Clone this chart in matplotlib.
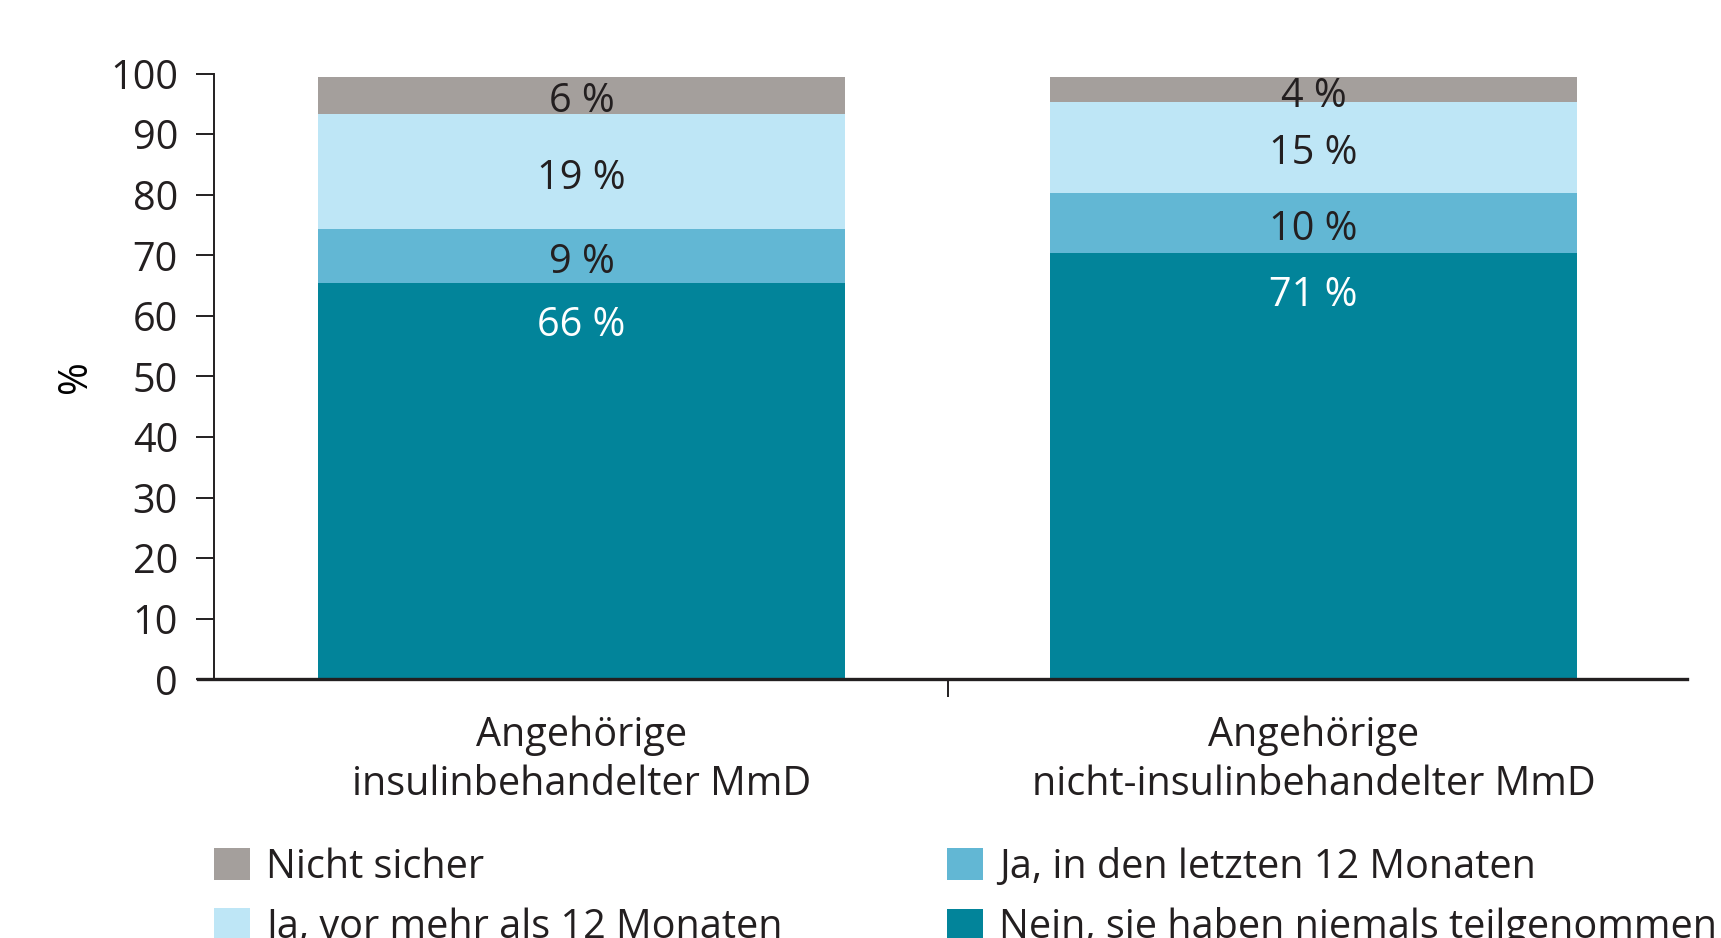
import matplotlib
matplotlib.use('Agg')
import matplotlib.pyplot as plt

# Daten
gruppen = ['Angehörige\ninsulinbehandelter MmD', 'Angehörige\nnicht-insulinbehandelter MmD']
kategorien = ['Nein, sie haben niemals teilgenommen', 'Ja, in den letzten 12 Monaten',
              'Ja, vor mehr als 12 Monaten', 'Nicht sicher']
nein_niemals = [65.4, 70.4]
ja_12_monate = [8.9, 9.9]
ja_vor_12 = [19.0, 15.0]
nicht_sicher = [6.15, 4.1]
beschriftung = [['66 %', '9 %', '19 %', '6 %'],
                ['71 %', '10 %', '15 %', '4 %']]

farben = ['#02849a', '#62b7d4', '#bee6f6', '#a49f9c']
textfarben = ['white', '#231f20', '#231f20', '#231f20']
dunkel = '#231f20'
fs = 28.5

plt.rcParams['font.family'] = ['Open Sans', 'DejaVu Sans']
plt.rcParams['font.size'] = fs
plt.rcParams['text.color'] = dunkel

fig = plt.figure(figsize=(17.21, 9.38), dpi=100)
ax = fig.add_axes([0.12435, 0.2757, 0.8559, 0.6459])

x = [0, 1]
werte = [nein_niemals, ja_12_monate, ja_vor_12, nicht_sicher]
unten = [0, 0]
balken = []
for i, serie in enumerate(werte):
    b = ax.bar(x, serie, width=0.72, bottom=unten, color=farben[i], label=kategorien[i])
    balken.append(b)
    for j in range(len(x)):
        if i == 0:
            # unterstes Segment: Beschriftung oben im Balken
            y = unten[j] + serie[j] - 7.0
        else:
            y = unten[j] + serie[j] / 2 - 1.1
        ax.text(x[j], y, beschriftung[j][i], ha='center', va='center',
                color=textfarben[i], fontsize=fs)
    unten = [unten[k] + serie[k] for k in range(len(x))]

ax.set_xlim(-0.502, 1.510)
ax.set_ylim(0, 100)
ax.set_yticks(range(0, 101, 10))

# Trennstrich zwischen den Gruppen, Gruppennamen als Minor-Ticks
ax.set_xticks([0.5])
ax.set_xticklabels([''])
ax.set_xticks(x, minor=True)
ax.set_xticklabels(gruppen, minor=True, linespacing=1.28)
ax.tick_params(axis='x', which='major', length=13, width=1.4, color=dunkel, direction='out')
ax.tick_params(axis='x', which='minor', length=0, pad=26, labelsize=fs, labelcolor=dunkel)
ax.tick_params(axis='y', length=13, width=1.4, color=dunkel, pad=13, labelsize=fs, labelcolor=dunkel)

for s in ['top', 'right']:
    ax.spines[s].set_visible(False)
ax.spines['left'].set_linewidth(1.4)
ax.spines['left'].set_color(dunkel)
ax.spines['bottom'].set_linewidth(2.4)
ax.spines['bottom'].set_color(dunkel)
ax.spines['bottom'].set_bounds(-0.502 - 16 / 732, 1.510)

ax.set_ylabel('%', va='center', fontsize=fs)
ax.yaxis.set_label_coords(-0.094, 0.5)

# Legende in zwei Spalten, unten abgeschnitten wie im Original
legende_kw = dict(loc='upper left', frameon=False, fontsize=fs, borderpad=0, borderaxespad=0,
                  handlelength=0.92, handleheight=0.88, handletextpad=0.4, labelspacing=0.49)
l1 = fig.legend([balken[3], balken[2]], [kategorien[3], kategorien[2]],
                bbox_to_anchor=(214 / 1721, 0.0965), **legende_kw)
l2 = fig.legend([balken[1], balken[0]], [kategorien[1], kategorien[0]],
                bbox_to_anchor=(947 / 1721, 0.0965), **legende_kw)

fig.savefig('out.png', dpi=100)
